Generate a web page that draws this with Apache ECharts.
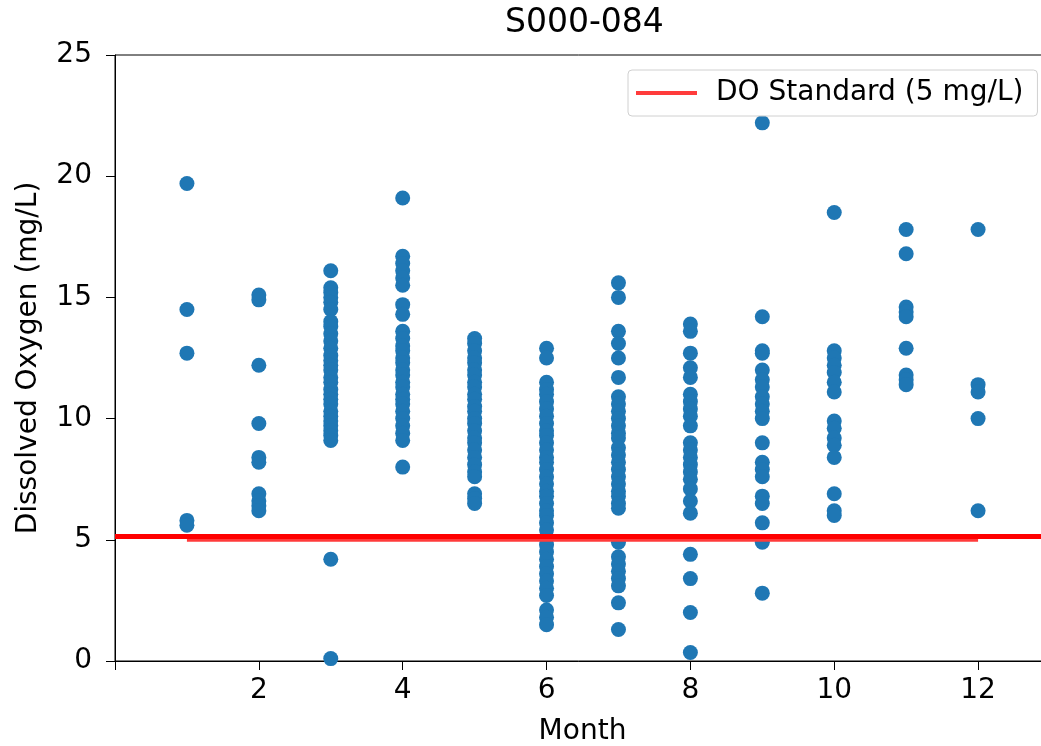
<!DOCTYPE html>
<html>
<head>
<meta charset="utf-8">
<title>S000-084</title>
<script src="https://cdn.jsdelivr.net/npm/echarts@6/dist/echarts.min.js"></script>
<style>
  html, body { margin: 0; padding: 0; background: #fff; }
  #main { width: 1041px; height: 746px; }
</style>
</head>
<body>
<div id="main"></div>
<script>
// dissolved oxygen readings per month (mg/L)
var month1 = [19.7, 14.5, 12.7, 5.8, 5.6];
var month2 = [15.1, 14.9, 12.2, 9.8, 8.4, 8.2, 6.9, 6.6, 6.4, 6.2];
var month3 = [16.1, 15.4, 15.2, 15.0, 14.8, 14.5, 14.0, 13.8, 13.5, 13.2, 12.9, 12.6, 12.4, 12.2, 12.0,
              11.7, 11.5, 11.2, 11.0, 10.8, 10.6, 10.3, 10.1, 9.9, 9.7, 9.5, 9.3, 9.1, 4.2, 0.1];
var month4 = [19.1, 16.7, 16.4, 16.1, 15.8, 15.5, 14.7, 14.3, 13.6, 13.3, 13.0, 12.8, 12.5, 12.3, 12.0,
              11.8, 11.5, 11.3, 11.0, 10.8, 10.6, 10.3, 10.0, 9.7, 9.4, 9.1, 8.0];
var month5 = [13.3, 13.1, 12.8, 12.5, 12.3, 12.0, 11.8, 11.5, 11.3, 11.0, 10.8, 10.5, 10.3, 10.0, 9.8,
              9.5, 9.2, 9.0, 8.7, 8.4, 8.1, 7.8, 7.6, 6.9, 6.7, 6.5];
var month6 = [12.9, 12.5, 11.5, 11.2, 11.0, 10.7, 10.4, 10.1, 9.8, 9.5, 9.3, 9.0, 8.7, 8.4, 8.2, 7.9,
              7.6, 7.3, 7.0, 6.8, 6.5, 6.2, 6.0, 5.7, 5.4, 5.1, 4.8, 4.5, 4.2, 3.9, 3.6, 3.3, 3.0, 2.7,
              2.1, 1.8, 1.5];
var month7 = [15.6, 15.0, 13.6, 13.1, 12.5, 11.7, 10.9, 10.6, 10.3, 10.0, 9.7, 9.4, 9.2, 8.8, 8.5,
              8.2, 7.9, 7.6, 7.3, 7.0, 6.8, 6.5, 6.3, 4.9, 4.3, 4.0, 3.7, 3.4, 3.1, 2.4, 1.3];
var month8 = [13.9, 13.6, 12.7, 12.1, 11.7, 11.0, 10.7, 10.4, 10.1, 9.7, 9.0, 8.7, 8.4, 8.1, 7.8, 7.5,
              7.1, 6.6, 6.1, 4.4, 3.4, 2.0, 0.35];
var month9 = [22.2, 14.2, 12.8, 12.7, 12.0, 11.6, 11.3, 10.9, 10.6, 10.3, 10.0, 9.0, 8.2, 7.9, 7.6,
              6.8, 6.5, 5.7, 4.9, 2.8];
var month10 = [18.5, 12.8, 12.5, 12.2, 11.9, 11.5, 11.1, 9.9, 9.6, 9.2, 8.9, 8.4, 6.9, 6.2, 6.0];
var month11 = [17.8, 16.8, 14.6, 14.4, 14.2, 12.9, 11.8, 11.6, 11.4];
var month12 = [17.8, 11.4, 11.1, 10.0, 6.2];

var monthValues = [month1, month2, month3, month4, month5, month6,
                   month7, month8, month9, month10, month11, month12];

// standard line
var stdMonths = [1, 12];
var stdLevel = [5, 5];
var stdAxisLevel = 5.15;

var xTicks = [2, 4, 6, 8, 10, 12];
var yTicks = [0, 5, 10, 15, 20, 25];

function buildPoints(){
    var pts = [];
    for(var m = 0; m < monthValues.length; m++){
        for(var i = 0; i < monthValues[m].length; i++){
            pts.push([m + 1, monthValues[m][i]]);
        }
    }
    return pts;
}

function buildStd(){
    var out = [];
    for(var i = 0; i < stdMonths.length; i++){
        out.push([stdMonths[i], stdLevel[i]]);
    }
    return out;
}

var font = 'DejaVu Sans';
var chart = echarts.init(document.getElementById('main'));

var option = {
    animation: false,
    backgroundColor: '#fff',
    title: {
        text: 'S000-084',
        left: 500,
        top: 2,
        textStyle: { fontFamily: font, fontSize: 33, fontWeight: 'normal', color: '#000' }
    },
    legend: {
        data: ['DO Standard (5 mg/L)'],
        left: 628,
        top: 70,
        padding: [9, 14, 9, 8],
        backgroundColor: 'rgba(255,255,255,0.85)',
        borderColor: '#d0d0d0',
        borderWidth: 1,
        borderRadius: 4,
        icon: 'rect',
        itemWidth: 61,
        itemHeight: 4,
        textStyle: { fontFamily: font, fontSize: 28, color: '#000', padding: [0, 0, 0, 14] },
        z: 10
    },
    grid: {
        left: 115,
        top: 55,
        width: 935,
        height: 606,
        outerBoundsMode: 'none',
        containLabel: false,
        show: true,
        borderColor: '#000',
        borderWidth: 1
    },
    xAxis: {
        type: 'value',
        min: 0,
        max: 13,
        interval: 1,
        name: 'Month',
        nameLocation: 'middle',
        nameGap: 57,
        nameTextStyle: { fontFamily: font, fontSize: 28, color: '#000' },
        splitLine: { show: false },
        axisLine: { lineStyle: { color: '#000', width: 1 } },
        axisTick: {
            length: 9,
            lineStyle: { color: '#000' },
            customValues: [0].concat(xTicks)
        },
        axisLabel: {
            fontFamily: font, fontSize: 28, color: '#000', margin: 16,
            customValues: xTicks
        }
    },
    yAxis: {
        type: 'value',
        min: 0,
        max: 25,
        interval: 5,
        name: 'Dissolved Oxygen (mg/L)',
        nameLocation: 'middle',
        nameGap: 72,
        nameTextStyle: { fontFamily: font, fontSize: 28, color: '#000' },
        splitLine: { show: false },
        axisLine: { show: true, lineStyle: { color: '#000', width: 1 } },
        axisTick: { show: true, length: 9, lineStyle: { color: '#000' } },
        axisLabel: {
            fontFamily: font, fontSize: 28, color: '#000', margin: 23,
            customValues: yTicks
        }
    },
    series: [{
        name: 'DO',
        type: 'scatter',
        symbolSize: 15,
        itemStyle: { color: '#1f77b4', opacity: 1 },
        data: buildPoints(),
        z: 2
    }, {
        name: 'DO Standard (5 mg/L)',
        type: 'line',
        showSymbol: false,
        symbol: 'none',
        lineStyle: { color: '#ff3b3b', width: 4 },
        itemStyle: { color: '#ff3b3b' },
        data: buildStd(),
        z: 3,
        markLine: {
            silent: true,
            symbol: 'none',
            label: { show: false },
            lineStyle: { color: '#ff0000', width: 5, type: 'solid' },
            data: [{ yAxis: stdAxisLevel }]
        }
    }]
};
chart.setOption(option);
</script>
</body>
</html>
